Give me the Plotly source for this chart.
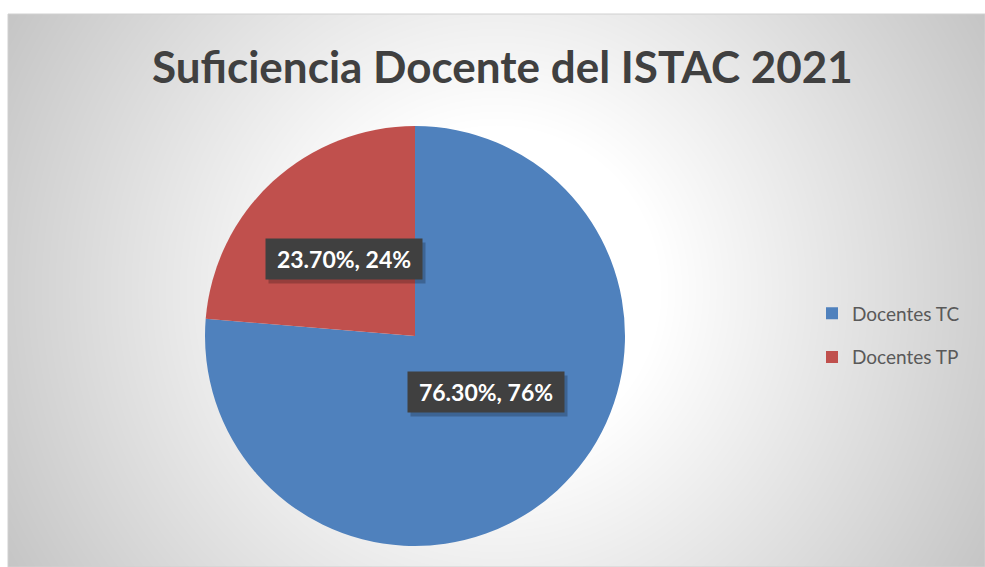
import base64, struct, zlib, math
import numpy as np
import plotly.graph_objects as go

# ---- data ----
categories = ["Docentes TC", "Docentes TP"]
shares = [0.763, 0.237]
colors = ["#4F81BD", "#C0504D"]
title_text = "Suficiencia Docente del ISTAC 2021"

W, H = 985, 567

def px(x):  # page pixel -> paper x
    return x / W
def py(y):  # page pixel -> paper y
    return 1 - y / H

# ---- background gradient image (style) ----
bx0, by0, bx1, by1 = 8, 14, 985, 567
bw, bh = bx1 - bx0, by1 - by0
xs = np.arange(bw)[None, :] + bx0
ys = np.arange(bh)[:, None] + by0
d = np.sqrt((xs - 496.0) ** 2 + (ys - 290.0) ** 2)
img = np.clip(255 - np.maximum(0, d - 165) * 0.145, 0, 255).astype(np.uint8)
raw = b"".join(b"\x00" + img[r].tobytes() for r in range(bh))
def chunk(t, data):
    c = struct.pack(">I", len(data)) + t + data
    return c + struct.pack(">I", zlib.crc32(t + data) & 0xFFFFFFFF)
png = b"\x89PNG\r\n\x1a\n" + chunk(b"IHDR", struct.pack(">IIBBBBB", bw, bh, 8, 0, 0, 0, 0)) \
      + chunk(b"IDAT", zlib.compress(raw, 9)) + chunk(b"IEND", b"")
src = "data:image/png;base64," + base64.b64encode(png).decode()

# ---- pie geometry ----
pcx, pcy, R = 415, 336, 210
dom_x = [px(pcx - R), px(pcx + R)]
dom_y = [py(pcy + R), py(pcy - R)]

fig = go.Figure()
fig.add_trace(go.Pie(
    labels=categories, values=shares, sort=False, direction="clockwise", rotation=0,
    marker=dict(colors=colors, line=dict(width=0)), textinfo="none", hoverinfo="label+percent",
    showlegend=False, domain=dict(x=dom_x, y=dom_y),
))

# legend entries
for name, col in zip(categories, colors):
    fig.add_trace(go.Scatter(x=[None], y=[None], mode="markers", name=name,
                             legendgroup=name,
                             marker=dict(symbol="square", size=12, color=col)))

# data labels computed from data
annotations = []
total = sum(shares)
cum = 0.0
cx_p = (dom_x[0] + dom_x[1]) / 2
cy_p = (dom_y[0] + dom_y[1]) / 2
for v in shares:
    mid = (cum + v / 2) / total
    cum += v
    th = 2 * math.pi * mid
    ax = cx_p + 0.5 * R * math.sin(th) / W
    ay = cy_p + 0.5 * R * math.cos(th) / H
    txt = f"{v*100:.2f}%, {round(v/total*100)}%"
    annotations.append(dict(x=ax, y=ay, xref="paper", yref="paper", text="&nbsp;", showarrow=False,
                            font=dict(family="Lato", size=22, color="rgba(0,0,0,0)"),
                            bgcolor="rgba(0,0,0,0.22)", width=150, height=34, borderpad=3,
                            xshift=3, yshift=-4))
    annotations.append(dict(x=ax, y=ay, xref="paper", yref="paper", text=f"<b>{txt}</b>",
                            showarrow=False,
                            font=dict(family="Lato", size=23, color="white"),
                            bgcolor="#404040", width=150, height=34, borderpad=3))

annotations.append(dict(x=px(503), y=py(66), xref="paper", yref="paper",
                        text=f"<b>{title_text}</b>", showarrow=False,
                        font=dict(family="Lato", size=44, color="#404040"),
                        xanchor="center", yanchor="middle"))

fig.update_layout(
    width=W, height=H, margin=dict(l=0, r=0, t=0, b=0),
    paper_bgcolor="white", plot_bgcolor="rgba(0,0,0,0)",
    xaxis=dict(visible=False), yaxis=dict(visible=False),
    annotations=annotations,
    images=[dict(source=src, xref="paper", yref="paper", x=px(bx0), y=py(by0),
                 sizex=bw / W, sizey=bh / H, sizing="stretch", xanchor="left", yanchor="top",
                 layer="below")],
    shapes=[dict(type="rect", xref="paper", yref="paper", x0=px(bx0), y0=0, x1=1, y1=py(by0),
                 line=dict(color="#D0D0D0", width=1), fillcolor="rgba(0,0,0,0)", layer="below")],
    legend=dict(x=px(812), y=py(335.5), xanchor="left", yanchor="middle",
                font=dict(family="Lato", size=19, color="#595959"),
                bgcolor="rgba(0,0,0,0)", tracegroupgap=16, itemclick=False),
    showlegend=True,
)
fig.write_html("out.html", config={"displayModeBar": False},
               post_script="document.body.style.margin='0';document.body.style.overflow='hidden';")
